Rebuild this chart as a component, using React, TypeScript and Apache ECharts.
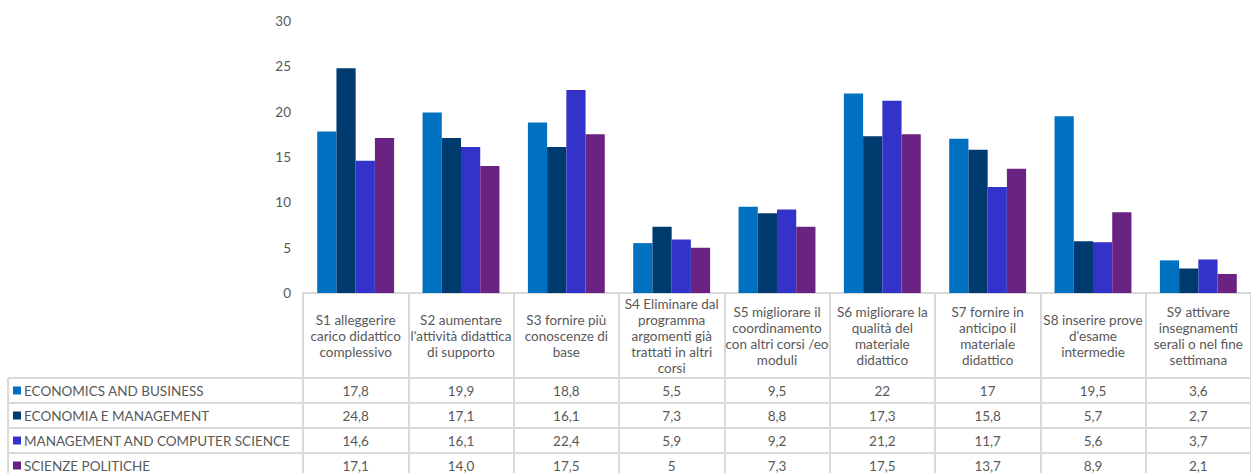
import React, { useEffect, useRef } from "react";
import * as echarts from "echarts";

const categories = [
  "S1 alleggerire\ncarico didattico\ncomplessivo",
  "S2 aumentare\nl'attività didattica\ndi supporto",
  "S3 fornire più\nconoscenze di\nbase",
  "S4 Eliminare dal\nprogramma\nargomenti già\ntrattati in altri\ncorsi",
  "S5 migliorare il\ncoordinamento\ncon altri corsi /eo\nmoduli",
  "S6 migliorare la\nqualità del\nmateriale\ndidattico",
  "S7 fornire in\nanticipo il\nmateriale\ndidattico",
  "S8 inserire prove\nd'esame\nintermedie",
  "S9 attivare\ninsegnamenti\nserali o nel fine\nsettimana",
];

const seriesNames = [
  "ECONOMICS AND BUSINESS",
  "ECONOMIA E MANAGEMENT",
  "MANAGEMENT AND COMPUTER SCIENCE",
  "SCIENZE POLITICHE",
];

const seriesColors = ["#0070C0", "#003B70", "#3333CC", "#6B2383"];

const economicsBusiness = ["17,8", "19,9", "18,8", "5,5", "9,5", "22", "17", "19,5", "3,6"];
const economiaManagement = ["24,8", "17,1", "16,1", "7,3", "8,8", "17,3", "15,8", "5,7", "2,7"];
const managementComputerScience = ["14,6", "16,1", "22,4", "5,9", "9,2", "21,2", "11,7", "5,6", "3,7"];
const scienzePolitiche = ["17,1", "14,0", "17,5", "5", "7,3", "17,5", "13,7", "8,9", "2,1"];

const rows = [economicsBusiness, economiaManagement, managementComputerScience, scienzePolitiche];

const yMin = 0;
const yMax = 30;
const yInterval = 5;

const parseValue = (s: string) => parseFloat(s.replace(",", "."));

// layout
const W = 1251;
const H = 520;
const GRID_LEFT = 303;
const GRID_TOP = 21;
const GRID_BOTTOM_Y = 293;
const GRID_WIDTH = 957;
const HEADER_H = 85;
const ROW_H = 25;
const TABLE_LEFT = 8;
const LINE_COLOR = "#D9D9D9";
const TEXT_COLOR = "#595959";
const FONT = "Lato";
const FS = 13.5;

export default function App() {
  const ref = useRef<HTMLDivElement>(null);

  useEffect(() => {
    document.body.style.margin = "0";
    document.body.style.overflow = "hidden";
    if (!ref.current) return;
    const chart = echarts.init(ref.current, null, { renderer: "svg" });

    const rowAxes = rows.map((row, r) => ({
      type: "category",
      gridIndex: 0,
      position: "bottom",
      offset: HEADER_H + r * ROW_H,
      data: categories,
      axisLine: { show: true, lineStyle: { color: LINE_COLOR, width: 2 } },
      axisTick: { show: false },
      axisLabel: {
        interval: 0,
        margin: ROW_H / 2,
        verticalAlign: "middle",
        color: TEXT_COLOR,
        fontSize: FS,
        fontFamily: FONT,
        formatter: (_v: string, i: number) => row[i],
      },
      splitLine: { show: false },
    }));

    const graphics: any[] = [];
    for (let r = 0; r <= rows.length; r++) {
      const y = GRID_BOTTOM_Y + HEADER_H + r * ROW_H;
      graphics.push({
        type: "line",
        silent: true,
        shape: { x1: TABLE_LEFT, y1: y, x2: GRID_LEFT, y2: y },
        style: { stroke: LINE_COLOR, lineWidth: 2 },
      });
    }
    graphics.push({
      type: "line",
      silent: true,
      shape: {
        x1: TABLE_LEFT,
        y1: GRID_BOTTOM_Y + HEADER_H,
        x2: TABLE_LEFT,
        y2: GRID_BOTTOM_Y + HEADER_H + rows.length * ROW_H,
      },
      style: { stroke: LINE_COLOR, lineWidth: 2 },
    });

    chart.setOption({
      animation: false,
      textStyle: { fontFamily: FONT },
      grid: {
        left: GRID_LEFT,
        top: GRID_TOP,
        width: GRID_WIDTH,
        height: GRID_BOTTOM_Y - GRID_TOP,
        containLabel: false,
      },
      legend: {
        orient: "vertical",
        left: 13,
        top: GRID_BOTTOM_Y + HEADER_H,
        padding: 0,
        itemGap: 0,
        itemWidth: 8,
        itemHeight: 8,
        icon: "rect",
        selectedMode: false,
        data: seriesNames,
        textStyle: {
          color: TEXT_COLOR,
          fontSize: FS,
          fontFamily: FONT,
          lineHeight: ROW_H,
          padding: [0, 0, 0, -2],
        },
      },
      xAxis: [
        {
          type: "category",
          gridIndex: 0,
          position: "bottom",
          data: categories,
          axisLine: { show: true, lineStyle: { color: LINE_COLOR, width: 2 } },
          axisTick: {
            show: true,
            length: HEADER_H + rows.length * ROW_H,
            lineStyle: { color: LINE_COLOR, width: 2 },
          },
          axisLabel: {
            interval: 0,
            margin: HEADER_H / 2,
            verticalAlign: "middle",
            align: "center",
            lineHeight: 16,
            color: TEXT_COLOR,
            fontSize: FS,
            fontFamily: FONT,
          },
          splitLine: { show: false },
        },
        ...rowAxes,
      ],
      yAxis: {
        type: "value",
        min: yMin,
        max: yMax,
        interval: yInterval,
        axisLine: { show: false },
        axisTick: { show: false },
        splitLine: { show: false },
        axisLabel: {
          color: TEXT_COLOR,
          fontSize: FS,
          fontFamily: FONT,
          margin: 12,
        },
      },
      series: rows.map((row, i) => ({
        name: seriesNames[i],
        type: "bar",
        xAxisIndex: 0,
        yAxisIndex: 0,
        data: row.map(parseValue),
        barGap: "0%",
        barCategoryGap: "27%",
        itemStyle: { color: seriesColors[i] },
      })),
      graphic: graphics,
    });

    return () => chart.dispose();
  }, []);

  return <div ref={ref} style={{ width: W, height: H }} />;
}
